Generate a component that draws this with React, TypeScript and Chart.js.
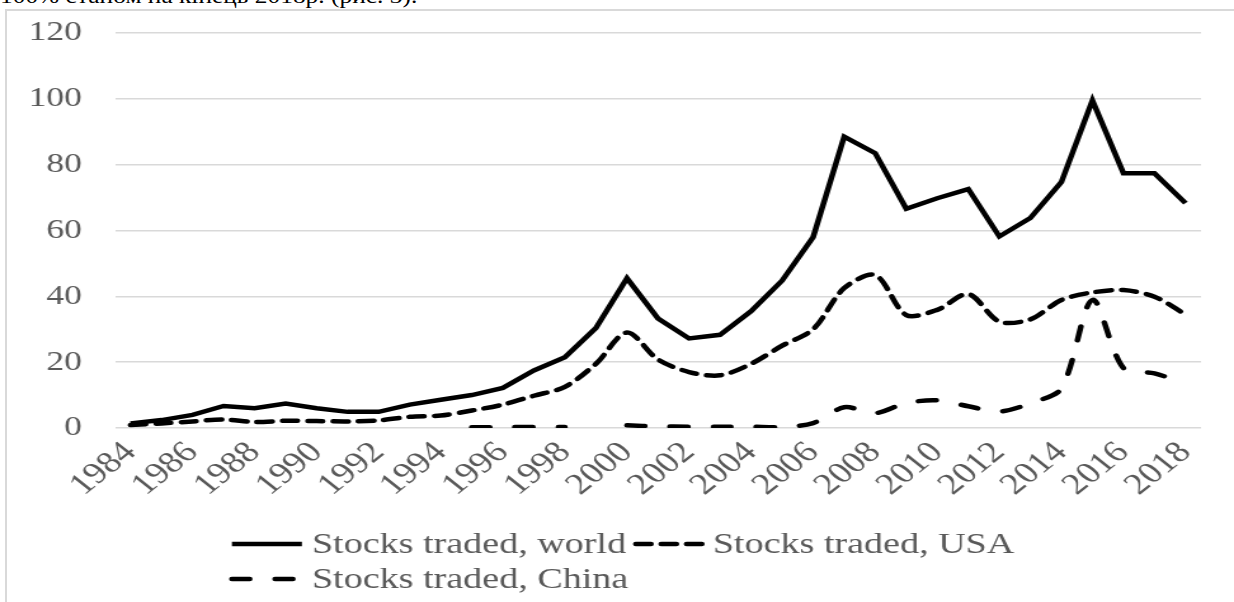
import React, { useEffect, useRef } from "react";
import { Chart, registerables } from "chart.js";

Chart.register(...registerables);

// ---- data ----
const years = [
  "1984", "1985", "1986", "1987", "1988", "1989", "1990", "1991", "1992", "1993",
  "1994", "1995", "1996", "1997", "1998", "1999", "2000", "2001", "2002", "2003",
  "2004", "2005", "2006", "2007", "2008", "2009", "2010", "2011", "2012", "2013",
  "2014", "2015", "2016", "2017", "2018",
];

const worldValues = [
  1.4, 2.4, 4.0, 6.7, 6.0, 7.4, 6.0, 4.9, 4.9, 7.1,
  8.6, 10.0, 12.2, 17.5, 21.5, 30.4, 45.5, 33.3, 27.2, 28.3,
  35.5, 44.8, 58.0, 88.5, 83.5, 66.6, 69.8, 72.6, 58.2, 63.8,
  74.7, 99.5, 77.4, 77.4, 68.3,
];

const usaValues = [
  0.9, 1.4, 2.0, 2.6, 1.8, 2.2, 2.1, 2.0, 2.3, 3.4,
  3.8, 5.3, 7.1, 9.8, 12.5, 19.5, 29.0, 20.8, 17.0, 16.0,
  19.5, 25.0, 30.0, 42.5, 46.5, 34.3, 35.9, 40.7, 32.3, 33.0,
  38.9, 41.2, 41.9, 39.9, 34.5,
];

const chinaValues: (number | null)[] = [
  null, null, null, null, null, null, null, null, null, null,
  null, 0.2, 0.3, 0.3, 0.3, null, 0.8, 0.5, 0.4, 0.4,
  0.4, 0.3, 1.5, 6.3, 4.5, 7.6, 8.4, 6.6, 5.0, 7.5,
  12.0, 38.9, 18.2, 16.6, 13.5,
];

const seriesLabels = [
  "Stocks traded, world",
  "Stocks traded, USA",
  "Stocks traded, China",
];

const yMin = 0;
const yMax = 120;
const yStep = 20;

const headingText = "100% станом на кінець 2018р. (рис. 3).";

// ---- look ----
const S = 1.27; // horizontal stretch of the picture
const CSS_W = 1234;
const CSS_H = 602;
const CW = Math.round(CSS_W / S);
const FONT = '"Liberation Serif", "Times New Roman", serif';
const GREY = "#595959";
const LW = 4.5;

const dashUSA = [12, 8];
const dashChina = [14, 20];

const legendPlugin = {
  id: "customLegend",
  afterDraw(chart: any) {
    const ctx = chart.ctx;
    const items = [
      { label: seriesLabels[0], dash: [] as number[], cap: "butt", x0: 232, x1: 302, tx: 312, y: 544 },
      { label: seriesLabels[1], dash: dashUSA, cap: "round", x0: 636, x1: 704, tx: 713, y: 544 },
      { label: seriesLabels[2], dash: dashChina, cap: "round", x0: 232, x1: 302, tx: 312, y: 579 },
    ];
    ctx.save();
    for (const it of items) {
      ctx.beginPath();
      ctx.setLineDash(it.dash);
      ctx.lineCap = it.cap;
      ctx.lineWidth = LW;
      ctx.strokeStyle = "#000";
      ctx.moveTo(it.x0 / S, it.y);
      ctx.lineTo(it.x1 / S, it.y);
      ctx.stroke();
      ctx.setLineDash([]);
      ctx.font = `30px ${FONT}`;
      ctx.fillStyle = GREY;
      ctx.textBaseline = "middle";
      ctx.textAlign = "left";
      ctx.fillText(it.label, it.tx / S, it.y + 1);
    }
    ctx.restore();
  },
};

export default function App() {
  const canvasRef = useRef<HTMLCanvasElement | null>(null);

  useEffect(() => {
    const canvas = canvasRef.current;
    if (!canvas) return;
    const chart = new Chart(canvas, {
      type: "line",
      data: {
        labels: years,
        datasets: [
          {
            label: seriesLabels[0],
            data: worldValues,
            borderColor: "#000",
            borderWidth: LW,
            pointRadius: 0,
            tension: 0,
            fill: false,
          },
          {
            label: seriesLabels[1],
            data: usaValues,
            borderColor: "#000",
            borderWidth: LW,
            borderDash: dashUSA,
            borderCapStyle: "round",
            pointRadius: 0,
            tension: 0.3,
            fill: false,
          },
          {
            label: seriesLabels[2],
            data: chinaValues,
            borderColor: "#000",
            borderWidth: LW,
            borderDash: dashChina,
            borderCapStyle: "round",
            pointRadius: 0,
            tension: 0.3,
            spanGaps: false,
            fill: false,
          },
        ],
      },
      options: {
        responsive: false,
        maintainAspectRatio: false,
        animation: false,
        devicePixelRatio: 1,
        layout: { padding: { top: 33, right: 33 / S, left: 0, bottom: 0 } },
        plugins: {
          legend: { display: false },
          tooltip: { enabled: false },
        },
        scales: {
          x: {
            type: "category",
            offset: true,
            grid: { display: false, drawTicks: false },
            border: { display: false },
            ticks: {
              autoSkip: false,
              maxRotation: 45,
              minRotation: 45,
              padding: 7,
              color: GREY,
              font: { family: FONT, size: 30 },
              callback: (_v: any, i: number) => (i % 2 === 0 ? years[i] : ""),
            },
            afterFit: (s: any) => {
              s.height = CSS_H - 428;
            },
          },
          y: {
            min: yMin,
            max: yMax,
            ticks: {
              stepSize: yStep,
              padding: 33 / S,
              color: GREY,
              font: { family: FONT, size: 28 },
            },
            grid: { color: "#d9d9d9", lineWidth: 1.5, drawTicks: false },
            border: { display: false },
            afterFit: (s: any) => {
              s.width = 115 / S;
              s.paddingTop = 0;
              s.paddingBottom = 0;
            },
          },
        },
      },
      plugins: [legendPlugin],
    });
    return () => chart.destroy();
  }, []);

  return (
    <div
      style={{
        position: "fixed",
        left: 0,
        top: 0,
        width: CSS_W,
        height: CSS_H,
        overflow: "hidden",
        background: "#fff",
      }}
    >
      <div
        style={{
          position: "absolute",
          left: 0,
          top: -14,
          fontFamily: FONT,
          fontSize: 20,
          lineHeight: "20px",
          whiteSpace: "nowrap",
          color: "#000",
          transform: `scaleX(${S})`,
          transformOrigin: "left top",
        }}
      >
        {headingText}
      </div>
      <div
        style={{
          position: "absolute",
          left: 5,
          top: 9,
          width: 1400,
          height: 800,
          border: "2px solid #d9d9d9",
          boxSizing: "border-box",
        }}
      />
      <canvas
        ref={canvasRef}
        width={CW}
        height={CSS_H}
        style={{
          position: "absolute",
          left: 0,
          top: 0,
          width: CSS_W + "px",
          height: CSS_H + "px",
          display: "block",
        }}
      />
    </div>
  );
}
